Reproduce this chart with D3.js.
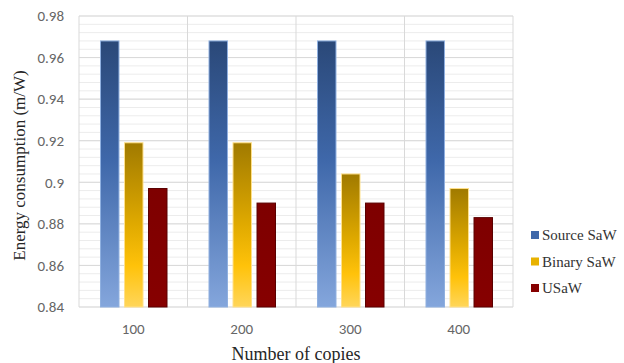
<!DOCTYPE html>
<html>
<head>
<meta charset="utf-8">
<script src="https://cdn.jsdelivr.net/npm/d3@7"></script>
<style>
  html, body { margin: 0; padding: 0; background: #fff; }
  svg { display: block; }
</style>
</head>
<body>
<svg id="chart" width="624" height="363"></svg>
<script>
// Energy consumption per number of copies, three watermarking schemes
const categories = ["100", "200", "300", "400"];
const seriesNames = ["Source SaW", "Binary SaW", "USaW"];
const sourceSaW = [0.968, 0.968, 0.968, 0.968];
const binarySaW = [0.919, 0.919, 0.904, 0.897];
const uSaW = [0.897, 0.890, 0.890, 0.883];
const yTicks = [0.84, 0.86, 0.88, 0.9, 0.92, 0.94, 0.96, 0.98];

const seriesValues = [sourceSaW, binarySaW, uSaW];

const svg = d3.select("#chart");
const margin = { left: 79, right: 111, top: 16, bottom: 56 };
const W = 624, H = 363;
const plotW = W - margin.left - margin.right;
const plotH = H - margin.top - margin.bottom;

const defs = svg.append("defs");
// vertical gradients for the bars
const gradSpecs = [
  { id: "gSource", stops: [["0%", "#2a4878"], ["45%", "#3f68aa"], ["100%", "#84a6dc"]] },
  { id: "gBinary", stops: [["0%", "#a07a00"], ["50%", "#e0aa00"], ["75%", "#ffc20a"], ["100%", "#ffd65a"]] },
  { id: "gUsaw", stops: [["0%", "#7e0000"], ["100%", "#860000"]] }
];
gradSpecs.forEach(g => {
  const lg = defs.append("linearGradient").attr("id", g.id)
    .attr("x1", 0).attr("y1", 0).attr("x2", 0).attr("y2", 1);
  g.stops.forEach(s => lg.append("stop").attr("offset", s[0]).attr("stop-color", s[1]));
});
const fills = ["url(#gSource)", "url(#gBinary)", "url(#gUsaw)"];
const strokes = ["#8fb0e0", "#ffe08a", "#5a0000"];
const legendColors = ["#3f68aa", "#e8b200", "#860000"];

const g = svg.append("g").attr("transform", `translate(${margin.left},${margin.top})`);

const x = d3.scaleBand().domain(categories).range([0, plotW]).padding(0);
const y = d3.scaleLinear().domain([0.84, 0.98]).range([plotH, 0]);

// minor gridlines every 0.004
const minor = d3.range(0, 36).map(i => 0.84 + i * 0.004);
g.append("g").selectAll("line").data(minor).join("line")
  .attr("x1", 0).attr("x2", plotW)
  .attr("y1", d => y(d)).attr("y2", d => y(d))
  .attr("stroke", "#ececec").attr("stroke-width", 1);

// major gridlines
g.append("g").selectAll("line").data(yTicks).join("line")
  .attr("x1", 0).attr("x2", plotW)
  .attr("y1", d => y(d)).attr("y2", d => y(d))
  .attr("stroke", "#d9d9d9").attr("stroke-width", 1);

// vertical category separators
const seps = categories.map(c => x(c)).concat([plotW]);
g.append("g").selectAll("line").data(seps).join("line")
  .attr("x1", d => d).attr("x2", d => d)
  .attr("y1", 0).attr("y2", plotH)
  .attr("stroke", "#d9d9d9").attr("stroke-width", 1);

// bars
const inner = d3.scaleBand().domain(seriesNames).range([21.5, 88]).paddingInner(0.23);
seriesNames.forEach((name, si) => {
  g.append("g").selectAll("rect").data(categories).join("rect")
    .attr("x", c => x(c) + inner(name))
    .attr("width", inner.bandwidth())
    .attr("y", (c, i) => y(seriesValues[si][i]))
    .attr("height", (c, i) => plotH - y(seriesValues[si][i]))
    .attr("fill", fills[si])
    .attr("stroke", strokes[si])
    .attr("stroke-width", 1);
});

// y axis labels
const yAxis = d3.axisLeft(y).tickValues(yTicks)
  .tickFormat(d => d3.format("")(+d.toFixed(2))).tickSize(0).tickPadding(15);
g.append("g").call(yAxis)
  .call(a => a.select(".domain").remove())
  .selectAll("text")
  .attr("fill", "#666").attr("font-family", "Carlito, 'Liberation Sans', Arial, sans-serif")
  .attr("font-size", 15);

// x axis labels
const xAxis = d3.axisBottom(x).tickSize(0).tickPadding(16);
g.append("g").attr("transform", `translate(0,${plotH})`).call(xAxis)
  .call(a => a.select(".domain").remove())
  .selectAll("text")
  .attr("fill", "#666").attr("font-family", "Carlito, 'Liberation Sans', Arial, sans-serif")
  .attr("font-size", 15);

// axis titles
svg.append("text")
  .attr("x", margin.left + plotW / 2).attr("y", 360)
  .attr("text-anchor", "middle")
  .attr("font-family", "'Liberation Serif', 'Times New Roman', serif")
  .attr("font-size", 18).attr("fill", "#262626")
  .text("Number of copies");

svg.append("text")
  .attr("transform", `translate(25,${margin.top + plotH / 2 + 4}) rotate(-90)`)
  .attr("text-anchor", "middle")
  .attr("font-family", "'Liberation Serif', 'Times New Roman', serif")
  .attr("font-size", 17).attr("fill", "#262626")
  .text("Energy consumption (m/W)");

// legend
const legend = svg.append("g").attr("transform", "translate(531,235)");
seriesNames.forEach((name, i) => {
  const row = legend.append("g").attr("transform", `translate(0,${i * 26.5})`);
  row.append("rect").attr("x", 0).attr("y", -4).attr("width", 8).attr("height", 8)
    .attr("fill", legendColors[i]);
  row.append("text").attr("x", 11).attr("y", 5)
    .attr("font-family", "'Liberation Serif', 'Times New Roman', serif")
    .attr("font-size", 15).attr("fill", "#333")
    .text(name);
});
</script>
</body>
</html>
